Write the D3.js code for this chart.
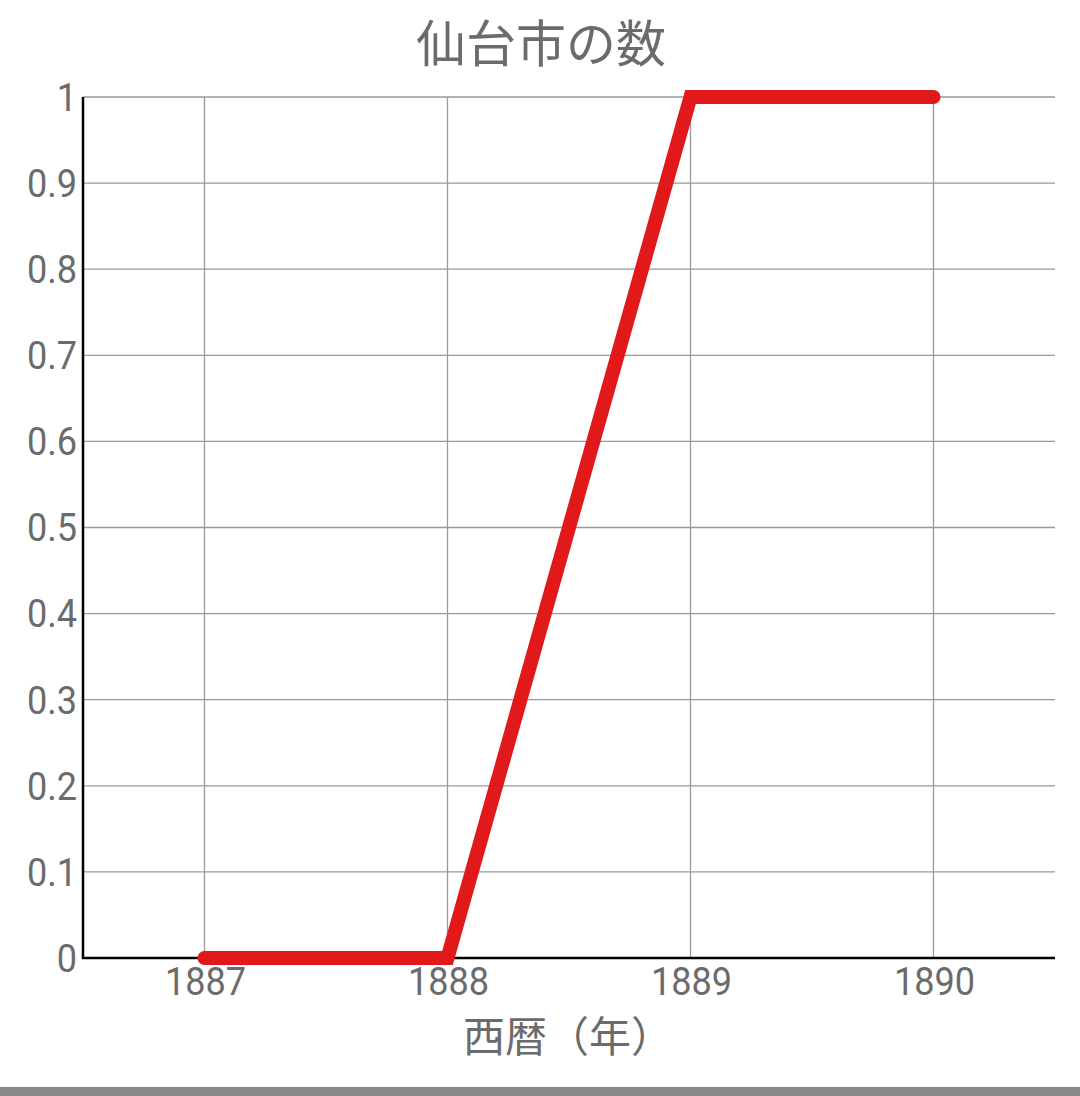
<!DOCTYPE html>
<html><head><meta charset="utf-8">
<script src="https://cdn.jsdelivr.net/npm/d3@7"></script>
<style>
html,body{margin:0;padding:0;background:#fff;}
svg{display:block;}
</style></head>
<body>
<script>
const years = [1887, 1888, 1889, 1890];
const values = [0, 0, 1, 1];
const yTicks = [0, 0.1, 0.2, 0.3, 0.4, 0.5, 0.6, 0.7, 0.8, 0.9, 1];
const yTickLabels = ["0", "0.1", "0.2", "0.3", "0.4", "0.5", "0.6", "0.7", "0.8", "0.9", "1"];
const title = "仙台市の数";
const xTitle = "西暦（年）";

const W = 1080, H = 1096;
const m = {left: 83, right: 1055, top: 97, bottom: 958};
const svg = d3.select("body").append("svg").attr("width", W).attr("height", H);
const x = d3.scaleLinear().domain([1886.5, 1890.5]).range([m.left, m.right]);
const y = d3.scaleLinear().domain([0, 1]).range([m.bottom, m.top]);
const txt = "#6b6b6b";
const font = "Roboto, 'Noto Sans CJK JP', sans-serif";
const sx = 0.95;

// grid
svg.append("g").selectAll("line").data(yTicks.slice(1)).join("line")
  .attr("x1", m.left).attr("x2", m.right)
  .attr("y1", d => y(d)).attr("y2", d => y(d))
  .attr("stroke", "#999").attr("stroke-width", 1.3);
svg.append("g").selectAll("line").data(years).join("line")
  .attr("x1", d => x(d)).attr("x2", d => x(d))
  .attr("y1", m.top).attr("y2", m.bottom)
  .attr("stroke", "#999").attr("stroke-width", 1.3);

// axes lines
svg.append("line").attr("x1", m.left).attr("x2", m.left).attr("y1", m.top).attr("y2", m.bottom + 1)
  .attr("stroke", "#000").attr("stroke-width", 2.5);
svg.append("line").attr("x1", m.left - 1).attr("x2", m.right).attr("y1", m.bottom).attr("y2", m.bottom)
  .attr("stroke", "#000").attr("stroke-width", 2.5);

// y tick labels
svg.append("g").selectAll("text").data(yTicks).join("text")
  .attr("transform", d => `translate(77,${y(d) + 1}) scale(${sx},1)`)
  .attr("text-anchor", "end").attr("dominant-baseline", "central")
  .attr("font-family", font).attr("font-size", 38).attr("fill", txt)
  .text((d, i) => yTickLabels[i]);

// x tick labels
svg.append("g").selectAll("text").data(years).join("text")
  .attr("transform", d => `translate(${x(d) + 1},995) scale(${sx},1)`)
  .attr("text-anchor", "middle")
  .attr("font-family", font).attr("font-size", 38).attr("fill", txt)
  .text(d => String(d));

// line
const data = years.map((yr, i) => ({yr, v: values[i]}));
svg.append("path").datum(data)
  .attr("d", d3.line().x(d => x(d.yr)).y(d => y(d.v)))
  .attr("fill", "none").attr("stroke", "#e2191a").attr("stroke-width", 14)
  .attr("stroke-linecap", "round").attr("stroke-linejoin", "miter");

// titles
svg.append("text").attr("x", 541).attr("y", 62).attr("text-anchor", "middle")
  .attr("font-family", "'Noto Sans CJK JP', sans-serif").attr("font-size", 50).attr("fill", txt)
  .text(title);
svg.append("text").attr("x", 568).attr("y", 1052).attr("text-anchor", "middle")
  .attr("font-family", "'Noto Sans CJK JP', sans-serif").attr("font-size", 42).attr("fill", txt)
  .text(xTitle);

// bottom bar
svg.append("rect").attr("x", 0).attr("y", 1087).attr("width", W).attr("height", 9).attr("fill", "#888");
</script>
</body></html>
